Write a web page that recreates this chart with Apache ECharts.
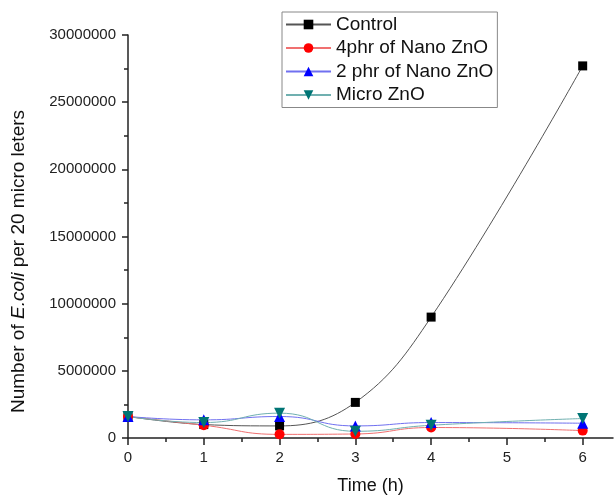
<!DOCTYPE html>
<html>
<head>
<meta charset="utf-8">
<script src="https://cdn.jsdelivr.net/npm/echarts@6/dist/echarts.min.js"></script>
<style>
  html, body { margin: 0; padding: 0; background: #fff; }
  #chart { width: 615px; height: 500px; }
</style>
</head>
<body>
<div id="chart"></div>
<script>
// time points (h), no measurement at 5 h
var times = [0, 1, 2, 3, 4, 6];

// E.coli counts per 20 micro liters
var control = [1600000, 1000000, 900000, 2650000, 9000000, 27700000];
var nano4phr = [1600000, 950000, 270000, 300000, 780000, 550000];
var nano2phr = [1600000, 1350000, 1600000, 900000, 1150000, 1100000];
var microZnO = [1600000, 1150000, 1850000, 500000, 950000, 1450000];

var seriesNames = ['Control', '4phr of Nano ZnO', '2 phr of Nano ZnO', 'Micro ZnO'];

var xMajor = [0, 1, 2, 3, 4, 5, 6];
var xMinor = [0.5, 1.5, 2.5, 3.5, 4.5, 5.5];

function pairs(vals) {
  return times.map(function (t, i) { return [t, vals[i]]; });
}

var chart = echarts.init(document.getElementById('chart'));

var axisColor = '#222';
var font = 'Liberation Sans, Arial, sans-serif';

var option = {
  animation: false,
  backgroundColor: '#fff',
  grid: {
    left: 128,
    right: 2,
    top: 35,
    bottom: 59,
    containLabel: false
  },
  legend: {
    orient: 'vertical',
    left: 282,
    top: 12,
    data: seriesNames,
    borderColor: '#888',
    borderWidth: 1,
    padding: [3, 4, 3, 3],
    itemGap: 4.5,
    itemWidth: 45,
    itemHeight: 12,
    textStyle: { fontSize: 19, lineHeight: 19, color: '#111', fontFamily: font }
  },
  xAxis: [
    {
      type: 'value',
      min: 0,
      max: 6.4,
      interval: 1,
      name: 'Time (h)',
      nameLocation: 'middle',
      nameGap: 39,
      nameTextStyle: { fontSize: 18, color: '#111', fontFamily: font },
      axisLine: { show: true, lineStyle: { color: axisColor, width: 1.5 } },
      axisTick: { show: true, inside: false, length: 7, customValues: xMajor, lineStyle: { color: axisColor, width: 1.5 } },
      axisLabel: { margin: 12, fontSize: 15, color: '#222', fontFamily: font, customValues: xMajor },
      splitLine: { show: false }
    },
    {
      // minor ticks only
      type: 'value',
      position: 'bottom',
      min: 0,
      max: 6.4,
      axisLine: { show: false },
      axisTick: { show: true, length: 4, customValues: xMinor, lineStyle: { color: axisColor, width: 1.5 } },
      axisLabel: { show: false },
      splitLine: { show: false }
    }
  ],
  yAxis: {
    type: 'value',
    min: 0,
    max: 30000000,
    interval: 5000000,
    name: 'Number of {i|E.coli} per 20 micro leters',
    nameLocation: 'middle',
    nameGap: 100,
    nameTextStyle: {
      fontSize: 19,
      color: '#111',
      fontFamily: font,
      padding: [0, 50, 0, 0],
      rich: { i: { fontStyle: 'italic', fontSize: 19, color: '#111', fontFamily: font } }
    },
    axisLine: { show: true, lineStyle: { color: axisColor, width: 1.5 } },
    axisTick: { show: true, length: 6, lineStyle: { color: axisColor, width: 1.5 } },
    minorTick: { show: true, splitNumber: 2, length: 4, lineStyle: { color: axisColor, width: 1.5 } },
    axisLabel: {
      margin: 12,
      fontSize: 15,
      color: '#222',
      fontFamily: font,
      formatter: function (v) { return String(v); }
    },
    splitLine: { show: false },
    minorSplitLine: { show: false }
  },
  series: [
    {
      name: seriesNames[0],
      type: 'line',
      smooth: 0.4,
      data: pairs(control),
      symbol: 'rect',
      symbolSize: 9,
      itemStyle: { color: '#000' },
      lineStyle: { color: '#555', width: 1 }
    },
    {
      name: seriesNames[1],
      type: 'line',
      smooth: true,
      data: pairs(nano4phr),
      symbol: 'circle',
      symbolSize: 10,
      itemStyle: { color: '#ff0000' },
      lineStyle: { color: '#f07070', width: 1 }
    },
    {
      name: seriesNames[2],
      type: 'line',
      smooth: true,
      data: pairs(nano2phr),
      symbol: 'triangle',
      symbolSize: 11,
      itemStyle: { color: '#0000ff' },
      lineStyle: { color: '#7070f0', width: 1 }
    },
    {
      name: seriesNames[3],
      type: 'line',
      smooth: true,
      data: pairs(microZnO),
      symbol: 'triangle',
      symbolRotate: 180,
      symbolSize: 11,
      itemStyle: { color: '#007575' },
      lineStyle: { color: '#70b0b0', width: 1 }
    }
  ]
};

chart.setOption(option);
</script>
</body>
</html>
